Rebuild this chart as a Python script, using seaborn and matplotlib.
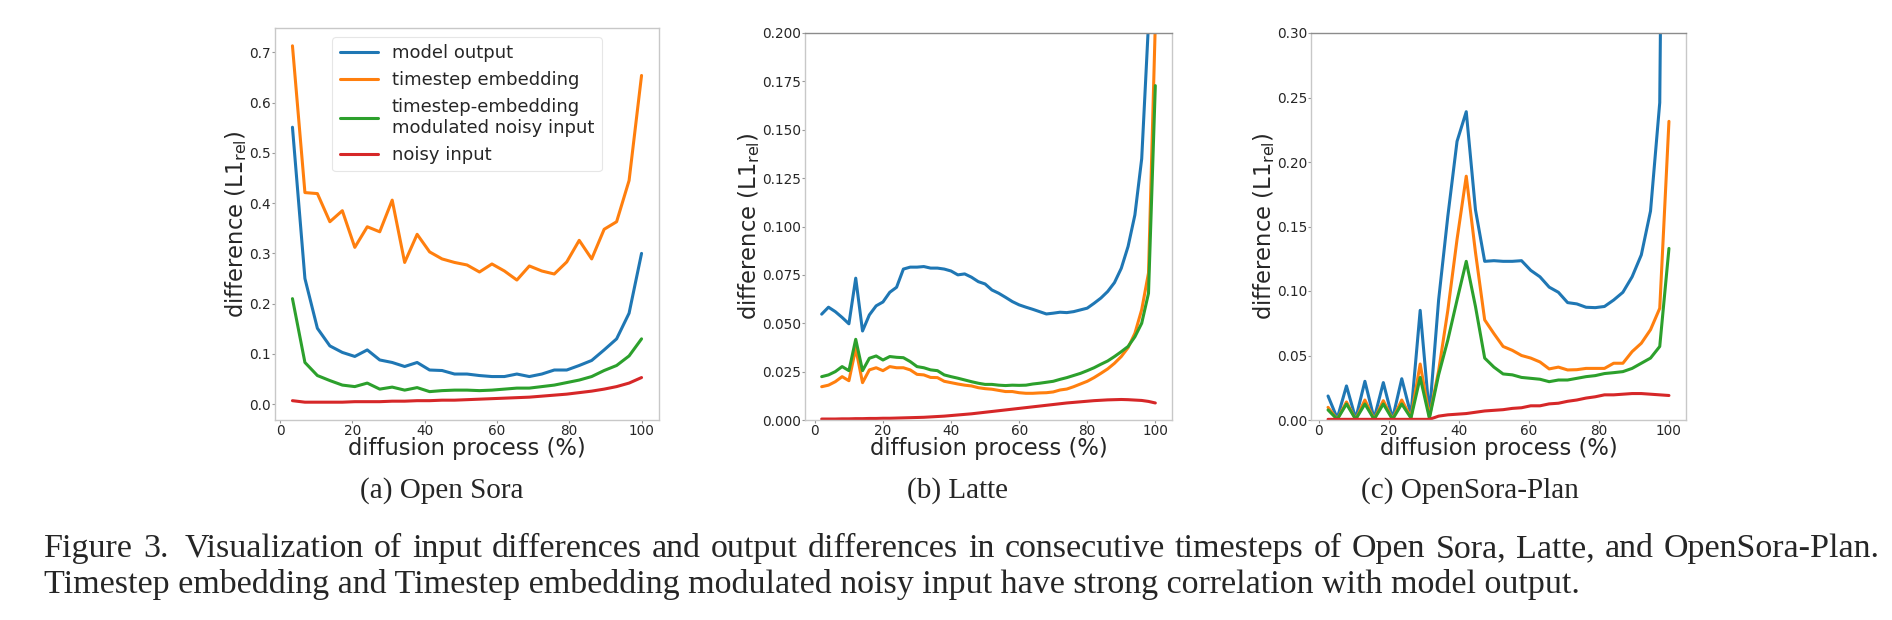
import matplotlib
matplotlib.use('Agg')
import matplotlib.pyplot as plt
import numpy as np
import pandas as pd
import seaborn as sns

SERIES = ['model output', 'timestep embedding',
          'timestep-embedding\nmodulated noisy input', 'noisy input']
COLORS = ['#1f77b4', '#ff7f0e', '#2ca02c', '#d62728']

# (a) Open Sora: 29 sampled steps
sora_x = [100 * i / 29 for i in range(1, 30)]
sora_output = [0.551, 0.250, 0.151, 0.116, 0.103, 0.095, 0.108, 0.088, 0.083, 0.075,
               0.083, 0.068, 0.067, 0.060, 0.060, 0.057, 0.055, 0.055, 0.060, 0.055,
               0.060, 0.068, 0.068, 0.077, 0.087, 0.108, 0.130, 0.181, 0.300]
sora_temb = [0.713, 0.421, 0.419, 0.363, 0.385, 0.312, 0.353, 0.343, 0.406, 0.282,
             0.338, 0.303, 0.289, 0.282, 0.277, 0.263, 0.279, 0.265, 0.247, 0.275,
             0.265, 0.259, 0.283, 0.326, 0.289, 0.348, 0.363, 0.445, 0.654]
sora_mod = [0.210, 0.083, 0.057, 0.047, 0.038, 0.035, 0.042, 0.030, 0.034, 0.028,
            0.033, 0.025, 0.027, 0.028, 0.028, 0.027, 0.028, 0.030, 0.032, 0.032,
            0.035, 0.038, 0.043, 0.048, 0.055, 0.067, 0.077, 0.096, 0.130]
sora_noisy = [0.007, 0.004, 0.004, 0.004, 0.004, 0.005, 0.005, 0.005, 0.006, 0.006,
              0.007, 0.007, 0.008, 0.008, 0.009, 0.010, 0.011, 0.012, 0.013, 0.014,
              0.016, 0.018, 0.020, 0.023, 0.026, 0.030, 0.035, 0.042, 0.053]

# (b) Latte: 50 sampled steps
latte_x = list(range(2, 101, 2))
latte_output = [0.0547, 0.0583, 0.0560, 0.0530, 0.0497, 0.0733, 0.0460, 0.0543, 0.0590, 0.0610,
                0.0660, 0.0686, 0.0780, 0.0790, 0.0790, 0.0793, 0.0785, 0.0785, 0.0780, 0.0770,
                0.0750, 0.0755, 0.0738, 0.0715, 0.0703, 0.0672, 0.0655, 0.0634, 0.0612, 0.0595,
                0.0583, 0.0572, 0.0560, 0.0548, 0.0552, 0.0557, 0.0555, 0.0560, 0.0569, 0.0578,
                0.0603, 0.0630, 0.0664, 0.0710, 0.0784, 0.0897, 0.1060, 0.1350, 0.2050, 0.5000]
latte_temb = [0.0172, 0.0180, 0.0198, 0.0224, 0.0203, 0.0370, 0.0193, 0.0259, 0.0270, 0.0255,
              0.0276, 0.0270, 0.0270, 0.0259, 0.0236, 0.0233, 0.0220, 0.0219, 0.0200, 0.0193,
              0.0186, 0.0180, 0.0176, 0.0167, 0.0162, 0.0159, 0.0153, 0.0147, 0.0147, 0.0141,
              0.0138, 0.0138, 0.0140, 0.0141, 0.0145, 0.0155, 0.0160, 0.0172, 0.0186, 0.0200,
              0.0219, 0.0241, 0.0264, 0.0293, 0.0328, 0.0374, 0.0448, 0.0570, 0.0760, 0.2050]
latte_mod = [0.0224, 0.0233, 0.0250, 0.0276, 0.0255, 0.0417, 0.0255, 0.0319, 0.0331, 0.0310,
             0.0328, 0.0324, 0.0322, 0.0302, 0.0276, 0.0270, 0.0259, 0.0255, 0.0233, 0.0224,
             0.0216, 0.0207, 0.0198, 0.0190, 0.0184, 0.0184, 0.0180, 0.0178, 0.0180, 0.0179,
             0.0180, 0.0186, 0.0190, 0.0195, 0.0200, 0.0210, 0.0219, 0.0230, 0.0241, 0.0255,
             0.0270, 0.0288, 0.0305, 0.0328, 0.0353, 0.0380, 0.0430, 0.0500, 0.0655, 0.1728]
latte_noisy = [0.0005, 0.0005, 0.0005, 0.0006, 0.0006, 0.0007, 0.0007, 0.0008, 0.0008, 0.0009,
               0.0009, 0.0010, 0.0011, 0.0012, 0.0013, 0.0014, 0.0016, 0.0018, 0.0020, 0.0023,
               0.0026, 0.0029, 0.0032, 0.0036, 0.0040, 0.0044, 0.0048, 0.0052, 0.0056, 0.0060,
               0.0064, 0.0068, 0.0072, 0.0076, 0.0080, 0.0084, 0.0088, 0.0091, 0.0094, 0.0097,
               0.0100, 0.0102, 0.0104, 0.0105, 0.0106, 0.0105, 0.0103, 0.0101, 0.0096, 0.0088]

# (c) OpenSora-Plan: 38 sampled steps
plan_x = [100 * i / 38 for i in range(1, 39)]
plan_output = [0.0186, 0.0013, 0.0264, 0.0010, 0.0300, 0.0010, 0.0290, 0.0010, 0.0320, 0.0040,
               0.0850, 0.0040, 0.0930, 0.1580, 0.2160, 0.2390, 0.1630, 0.1230, 0.1235, 0.1230,
               0.1230, 0.1235, 0.1160, 0.1110, 0.1030, 0.0990, 0.0910, 0.0900, 0.0874, 0.0871,
               0.0880, 0.0930, 0.0990, 0.1110, 0.1280, 0.1620, 0.2460, 1.0000]
plan_temb = [0.0098, 0.0005, 0.0140, 0.0005, 0.0155, 0.0005, 0.0150, 0.0005, 0.0155, 0.0020,
             0.0434, 0.0026, 0.0380, 0.0850, 0.1400, 0.1890, 0.1300, 0.0776, 0.0670, 0.0570,
             0.0540, 0.0500, 0.0480, 0.0450, 0.0396, 0.0410, 0.0388, 0.0390, 0.0400, 0.0400,
             0.0400, 0.0440, 0.0440, 0.0530, 0.0595, 0.0700, 0.0866, 0.2315]
plan_mod = [0.0078, 0.0005, 0.0124, 0.0005, 0.0124, 0.0005, 0.0124, 0.0005, 0.0124, 0.0015,
            0.0330, 0.0013, 0.0350, 0.0620, 0.0930, 0.1230, 0.0880, 0.0480, 0.0410, 0.0357,
            0.0350, 0.0330, 0.0323, 0.0316, 0.0297, 0.0310, 0.0310, 0.0323, 0.0336, 0.0344,
            0.0360, 0.0367, 0.0375, 0.0400, 0.0440, 0.0480, 0.0570, 0.1330]
plan_noisy = [0.0005, 0.0005, 0.0005, 0.0005, 0.0005, 0.0005, 0.0005, 0.0005, 0.0005, 0.0005,
              0.0005, 0.0005, 0.0030, 0.0040, 0.0045, 0.0050, 0.0060, 0.0070, 0.0075, 0.0080,
              0.0090, 0.0095, 0.0110, 0.0110, 0.0125, 0.0130, 0.0145, 0.0155, 0.0170, 0.0180,
              0.0195, 0.0195, 0.0200, 0.0205, 0.0205, 0.0200, 0.0195, 0.0190]

panels = [
    ('(a) Open Sora', sora_x, [sora_output, sora_temb, sora_mod, sora_noisy], None),
    ('(b) Latte', latte_x, [latte_output, latte_temb, latte_mod, latte_noisy], (0, 0.2)),
    ('(c) OpenSora-Plan', plan_x, [plan_output, plan_temb, plan_mod, plan_noisy], (0, 0.3)),
]

CAPTION_1 = ('Figure 3.  Visualization of input differences and output differences in consecutive '
             'timesteps of Open Sora, Latte, and OpenSora-Plan.')
CAPTION_2 = ('Timestep embedding and Timestep embedding modulated noisy input have strong '
             'correlation with model output.')

# axes boxes in figure pixels: left, right, top, bottom
boxes = [(275, 659, 28, 420), (805, 1172, 33, 420), (1311, 1686, 33, 420)]
caption_x = [442, 957, 1470]

sns.set_theme(style='ticks')
plt.rcParams['font.family'] = ['DejaVu Sans']

W, H = 1892, 620
fig = plt.figure(figsize=(W / 100, H / 100), dpi=100)
serif = 'Liberation Serif'

for k, (title, xs, ys, ylim) in enumerate(panels):
    l, r, t, b = boxes[k]
    ax = fig.add_axes([l / W, (H - b) / H, (r - l) / W, (b - t) / H])
    df = pd.concat([pd.DataFrame({'x': xs, 'y': v, 'series': s})
                    for s, v in zip(SERIES, ys)], ignore_index=True)
    sns.lineplot(data=df, x='x', y='y', hue='series', palette=COLORS,
                 hue_order=SERIES, estimator=None, sort=False, lw=2.2,
                 legend=(k == 0), ax=ax)
    if ylim is not None:
        ax.set_ylim(*ylim)
    ax.set_xticks([0, 20, 40, 60, 80, 100])
    if k == 1:
        ax.set_yticks(np.arange(0, 0.201, 0.025))
        ax.yaxis.set_major_formatter(matplotlib.ticker.FormatStrFormatter('%.3f'))
    elif k == 2:
        ax.set_yticks(np.arange(0, 0.301, 0.05))
        ax.yaxis.set_major_formatter(matplotlib.ticker.FormatStrFormatter('%.2f'))
    ax.set_xlabel('diffusion process (%)', fontsize=16.3, labelpad=-1)
    ax.set_ylabel(r'difference (L1$_{\rm rel}$)', fontsize=16.3, labelpad=0)
    ax.tick_params(axis='both', labelsize=9.8, length=2.0, width=0.8,
                   color='#999999', pad=0.8)
    for name, sp in ax.spines.items():
        sp.set_color('#c8c8c8')
        sp.set_linewidth(1.0)
    if ylim is not None:
        ax.spines['top'].set_color('#8c8c8c')
    if k == 0:
        leg = ax.legend(loc='upper center', bbox_to_anchor=(0.5, 1.0), fontsize=13,
                        handlelength=2.1, handletextpad=0.8, labelspacing=0.5,
                        borderpad=0.4, frameon=True, title=None)
        leg.get_frame().set_edgecolor('#e0e0e0')
        leg.get_frame().set_linewidth(0.8)
        for line in leg.get_lines():
            line.set_linewidth(2.2)
    fig.text(caption_x[k] / W, 1 - 498 / H, title, ha='center', va='baseline',
             fontsize=21, family=serif)

# caption: first line justified between left and right margins, second ragged
renderer = fig.canvas.get_renderer()
x_left, x_right = 44, 1880
words = CAPTION_1.split()
texts = [fig.text(0, 1 - 557 / H, w, ha='left', va='baseline', fontsize=24.5, family=serif)
         for w in words]
widths = [t.get_window_extent(renderer).width for t in texts]
gap = (x_right - x_left - sum(widths)) / (len(words) - 1 + 0.6)
x = x_left
for i, (t, wd) in enumerate(zip(texts, widths)):
    t.set_x(x / W)
    x += wd + gap + (gap * 0.6 if words[i] == '3.' else 0)
fig.text(x_left / W, 1 - 593 / H, CAPTION_2, ha='left', va='baseline',
         fontsize=24.5, family=serif)

fig.savefig('out.png', dpi=100)
